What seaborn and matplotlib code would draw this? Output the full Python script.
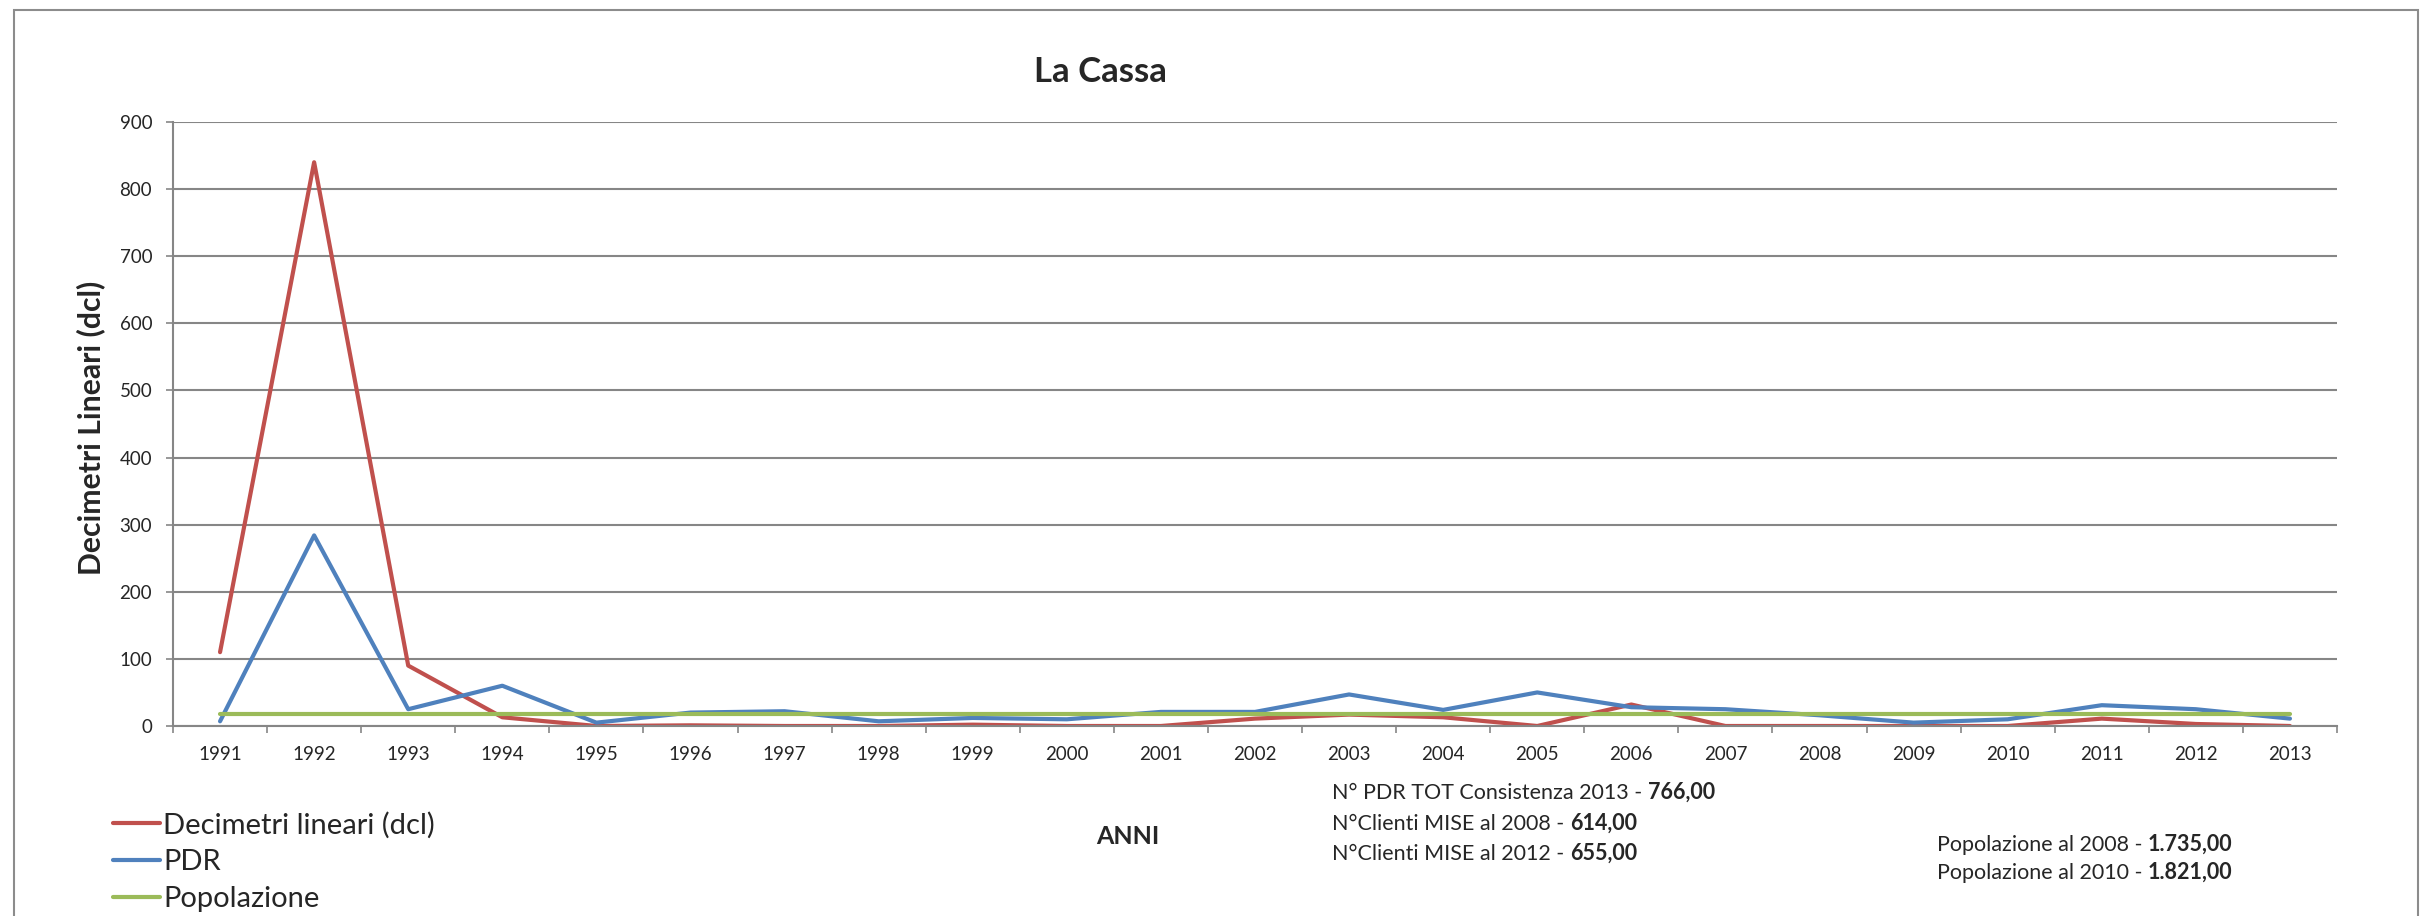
import numpy as np
import pandas as pd
import seaborn as sns
import matplotlib.pyplot as plt
import matplotlib.font_manager as fm
from matplotlib.patches import Rectangle

# %% data
years = list(range(1991, 2014))
decimetri = [110, 840, 90, 13, 0, 1, 0, 0, 2, 0, 0, 11, 17, 13, 0, 32, 0, 0, 0, 0, 11, 3, 0]
pdr = [7, 284, 25, 60, 5, 20, 22, 7, 12, 10, 21, 21, 47, 24, 50, 28, 25, 16, 5, 10, 31, 25, 11]
popolazione = [17.35, 17.35, 17.35, 17.35, 17.35, 17.35, 17.35, 17.35, 17.35, 17.35, 17.35, 17.35,
               17.35, 17.35, 17.35, 17.35, 17.35, 17.35, 17.35, 17.35, 17.35, 17.35, 17.35]
series_names = ['Decimetri lineari (dcl)', 'PDR', 'Popolazione']
colors = ['#C0504D', '#4F81BD', '#9BBB59']

info_left = [('N° PDR TOT Consistenza 2013 - ', '766,00'),
             ('N°Clienti MISE al 2008 - ', '614,00'),
             ('N°Clienti MISE al 2012 - ', '655,00')]
info_right = [('Popolazione al 2008 - ', '1.735,00'),
              ('Popolazione al 2010 - ', '1.821,00')]

df = pd.DataFrame({'anno': years * 3,
                   'valore': decimetri + pdr + popolazione,
                   'serie': [s for s in series_names for _ in years]})

# %% style
sns.set_style('white')
installed = {f.name for f in fm.fontManager.ttflist}
base = 'Liberation Sans Narrow' if 'Liberation Sans Narrow' in installed else 'Lato'
plt.rcParams['font.family'] = [base, 'DejaVu Sans']
grid_c = '#868686'
W, H = 2430, 916
x0, x1, y0, y1 = 173, 2337, 726, 122

fig = plt.figure(figsize=(W / 100, H / 100), dpi=100)
renderer = fig.canvas.get_renderer()


def size_for(s, target_w, start=14, **kw):
    # font size that makes string s about target_w pixels wide
    t = fig.text(0, 0, s, fontsize=start, **kw)
    w = t.get_window_extent(renderer).width
    t.remove()
    return start * target_w / w


def height_of(s, size, **kw):
    t = fig.text(0, 0, s, fontsize=size, **kw)
    h = t.get_window_extent(renderer).height
    t.remove()
    return h


ax = fig.add_axes([x0 / W, 1 - y0 / H, (x1 - x0) / W, (y0 - y1) / H])

sns.lineplot(data=df, x='anno', y='valore', hue='serie', hue_order=series_names,
             palette=dict(zip(series_names, colors)), linewidth=3.0, ax=ax, legend=True)

ax.set_xlim(1990.5, 2013.5)
ax.set_ylim(0, 900)
ax.set_yticks(np.arange(0, 901, 100))
ax.set_xticks(years)
ax.set_xticks(np.arange(1990.5, 2014, 1), minor=True)
ax.grid(axis='y', color=grid_c, linewidth=1.5)
ax.set_axisbelow(True)
for s in ['top', 'right']:
    ax.spines[s].set_visible(False)
for s in ['left', 'bottom']:
    ax.spines[s].set_color(grid_c)
    ax.spines[s].set_linewidth(1.5)
ax.tick_params(axis='y', which='major', length=5, width=1.2, color=grid_c, direction='out',
               labelsize=13.5, pad=10, left=True)
ax.tick_params(axis='x', which='major', length=0, labelsize=13.5, pad=14.5)
ax.tick_params(axis='x', which='minor', length=5, width=1.2, color=grid_c, direction='out', bottom=True)
ax.set_xlabel('')
ylab = 'Decimetri Lineari (dcl)'
ax.set_ylabel(ylab, fontsize=size_for(ylab, 295, fontweight='bold'), fontweight='bold')
ax.yaxis.set_label_coords((105 - x0) / (x1 - x0), (y0 - 428) / (y0 - y1))

fig.text(1100 / W, 1 - 82 / H, 'La Cassa', fontsize=25, fontweight='bold', ha='center', va='baseline')

# legend at bottom left
handles, labels = ax.get_legend_handles_labels()
ax.get_legend().remove()
for h in handles:
    h.set_linewidth(3.0)
leg_fs = size_for(series_names[0], 272)
leg_px = leg_fs * 100 / 72
leg_h = height_of(series_names[0], leg_fs)
fig.legend(handles, labels, loc='upper left', bbox_to_anchor=(113 / W, 1 - (825 - leg_h / 2) / H),
           frameon=False, fontsize=leg_fs, handlelength=47 / leg_px, handletextpad=3 / leg_px,
           labelspacing=(37.5 - leg_h) / leg_px, borderpad=0, borderaxespad=0)

fig.text(1128 / W, 1 - 837 / H, 'ANNI', fontsize=18, fontweight='bold', ha='center', va='center')


def mixed(x, y, normal, bold, size):
    t = fig.text(x, y, normal, fontsize=size, ha='left', va='center')
    ax.annotate(bold, xy=(1, 0), xycoords=t, fontsize=size, fontweight='bold',
                ha='left', va='bottom', annotation_clip=False)


info_fs = size_for(info_left[0][0] + info_left[0][1], 384)
for i, (a, b) in enumerate(info_left):
    mixed(1332 / W, 1 - (793 + 30.5 * i) / H, a, b, info_fs)
for i, (a, b) in enumerate(info_right):
    mixed(1937 / W, 1 - (845 + 28 * i) / H, a, b, info_fs)

# outer chart border
fig.add_artist(Rectangle((14 / W, -0.05), (2418 - 14) / W, 1.05 - 10 / H,
                         transform=fig.transFigure, fill=False, edgecolor='#8c8c8c', linewidth=1.5))

fig.savefig('out.png', dpi=100)
